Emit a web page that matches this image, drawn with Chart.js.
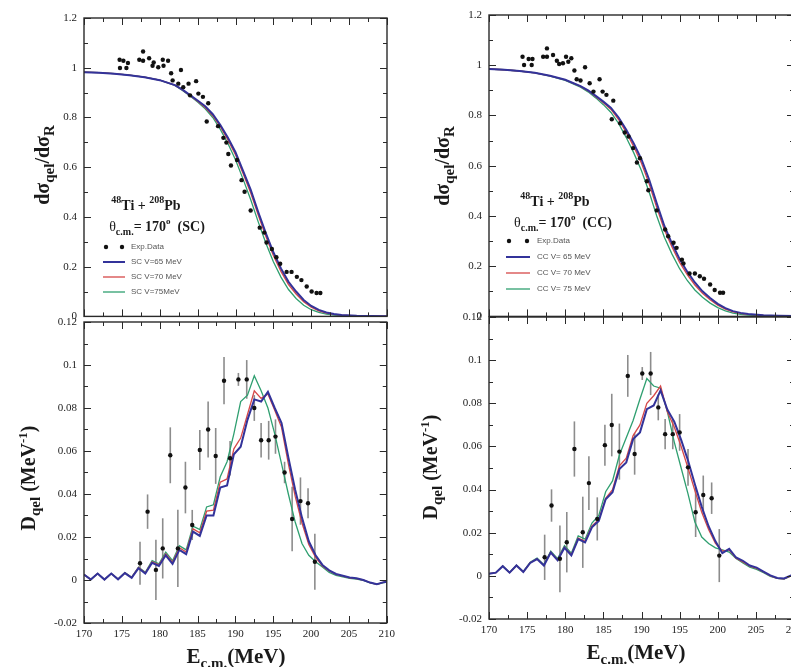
<!DOCTYPE html>
<html>
<head>
<meta charset="utf-8">
<script src="https://cdn.jsdelivr.net/npm/chart.js@4.4.1/dist/chart.umd.min.js"></script>
<style>
    body { margin: 0; background: #fff; overflow: hidden; width: 791px; height: 667px; position: relative; }
    canvas { position: absolute; }
</style>
</head>
<body>
<canvas id="razaoSC" width="400" height="330" style="left:0px;top:0px"></canvas>
<canvas id="razaoCC" width="420" height="330" style="left:400px;top:0px"></canvas>
<canvas id="barreiraSC" width="400" height="367" style="left:0px;top:300px"></canvas>
<canvas id="barreiraCC" width="420" height="372" style="left:400px;top:295px"></canvas>
<script>
// ---- razao dsigma_qel / dsigma_R : dados experimentais ----
var energiaExpSC = [174.7, 174.75, 175.2, 175.6, 175.8, 177.3, 177.8, 177.8, 178.6, 179.05, 179.2, 179.8, 180.4, 180.5, 181.1, 181.5, 181.7, 182.45, 182.8, 183.1, 183.8, 184.0, 184.8, 185.1, 185.7, 186.2, 186.4, 187.7, 188.4, 188.8, 189.05, 189.4, 190.2, 190.8, 191.2, 192.0, 193.2, 193.8, 194.1, 194.8, 195.4, 195.9, 196.75, 197.4, 198.1, 198.7, 199.4, 200.05, 200.7, 201.2];
var razaoExpSC = [1.032, 0.999, 1.028, 0.999, 1.019, 1.032, 1.065, 1.028, 1.038, 1.008, 1.021, 1.002, 1.032, 1.008, 1.028, 0.978, 0.949, 0.936, 0.991, 0.922, 0.936, 0.889, 0.946, 0.896, 0.883, 0.784, 0.857, 0.765, 0.718, 0.699, 0.653, 0.607, 0.629, 0.548, 0.501, 0.426, 0.357, 0.337, 0.297, 0.271, 0.238, 0.212, 0.179, 0.179, 0.159, 0.146, 0.120, 0.100, 0.094, 0.094];
var energiaExpCC = [174.4, 174.6, 175.2, 175.6, 175.7, 177.1, 177.6, 177.6, 178.4, 178.9, 179.2, 179.7, 180.1, 180.4, 180.8, 181.2, 181.5, 182.0, 182.6, 183.2, 183.7, 184.5, 184.9, 185.4, 186.1, 186.3, 187.2, 187.8, 188.3, 188.9, 189.4, 189.8, 190.7, 190.9, 192.0, 193.1, 193.5, 194.2, 194.6, 195.3, 195.5, 196.3, 197.0, 197.65, 198.2, 199.0, 199.6, 200.3, 200.7];
var razaoExpCC = [1.034, 1.001, 1.025, 1.001, 1.025, 1.034, 1.067, 1.034, 1.041, 1.018, 1.005, 1.008, 1.034, 1.014, 1.028, 0.979, 0.944, 0.939, 0.992, 0.928, 0.895, 0.944, 0.895, 0.882, 0.785, 0.859, 0.769, 0.732, 0.716, 0.670, 0.613, 0.630, 0.538, 0.502, 0.422, 0.346, 0.319, 0.293, 0.273, 0.226, 0.211, 0.171, 0.171, 0.160, 0.150, 0.127, 0.105, 0.094, 0.094];

// ---- razao : curvas teoricas ----
var energiaTeoria = [170, 172, 174, 176, 178, 180, 182, 183, 184, 185, 186, 187, 188, 189, 190, 191, 192, 193, 194, 195, 196, 197, 198, 199, 200, 201, 202, 203, 204, 206, 208, 210];
var razaoSC65 = [0.982, 0.980, 0.976, 0.970, 0.962, 0.950, 0.930, 0.912, 0.890, 0.868, 0.845, 0.813, 0.770, 0.718, 0.660, 0.585, 0.510, 0.420, 0.335, 0.258, 0.193, 0.139, 0.100, 0.066, 0.042, 0.026, 0.016, 0.010, 0.006, 0.003, 0.002, 0.001];
var razaoSC70 = [0.982, 0.980, 0.976, 0.970, 0.962, 0.950, 0.930, 0.911, 0.888, 0.865, 0.840, 0.807, 0.763, 0.710, 0.650, 0.575, 0.497, 0.408, 0.322, 0.245, 0.181, 0.128, 0.090, 0.059, 0.037, 0.022, 0.013, 0.008, 0.005, 0.002, 0.001, 0.001];
var razaoSC75 = [0.982, 0.980, 0.976, 0.970, 0.962, 0.950, 0.929, 0.909, 0.886, 0.862, 0.835, 0.800, 0.752, 0.695, 0.630, 0.552, 0.470, 0.380, 0.295, 0.220, 0.158, 0.108, 0.072, 0.045, 0.027, 0.016, 0.009, 0.005, 0.003, 0.001, 0.000, 0.000];
var razaoCC65 = [0.985, 0.982, 0.977, 0.970, 0.958, 0.942, 0.917, 0.900, 0.878, 0.855, 0.830, 0.792, 0.743, 0.688, 0.625, 0.545, 0.450, 0.360, 0.290, 0.228, 0.178, 0.135, 0.100, 0.073, 0.050, 0.033, 0.021, 0.014, 0.010, 0.005, 0.003, 0.002];
var razaoCC70 = [0.985, 0.982, 0.977, 0.970, 0.958, 0.942, 0.916, 0.898, 0.875, 0.851, 0.824, 0.784, 0.733, 0.675, 0.610, 0.528, 0.433, 0.345, 0.276, 0.215, 0.166, 0.125, 0.092, 0.066, 0.045, 0.029, 0.018, 0.012, 0.008, 0.004, 0.002, 0.001];
var razaoCC75 = [0.985, 0.982, 0.977, 0.970, 0.957, 0.940, 0.913, 0.894, 0.870, 0.843, 0.812, 0.768, 0.712, 0.650, 0.580, 0.495, 0.400, 0.315, 0.248, 0.190, 0.143, 0.105, 0.076, 0.053, 0.035, 0.022, 0.013, 0.008, 0.005, 0.002, 0.001, 0.000];

// ---- distribuicao de barreira D_qel : dados experimentais ----
var energiaDExpSC = [177.4, 178.4, 179.5, 180.4, 181.4, 182.4, 183.4, 184.3, 185.3, 186.4, 187.4, 188.5, 189.3, 190.4, 191.5, 192.5, 193.4, 194.4, 195.3, 196.5, 197.5, 198.6, 199.6, 200.5];
var dqelExpSC = [0.0078, 0.0318, 0.0047, 0.0147, 0.0580, 0.0147, 0.0430, 0.0256, 0.0605, 0.0700, 0.0577, 0.0927, 0.0566, 0.0933, 0.0933, 0.0800, 0.0650, 0.0650, 0.0667, 0.0500, 0.0284, 0.0367, 0.0357, 0.0085];
var erroExpSC = [0.0100, 0.0080, 0.0140, 0.0140, 0.0130, 0.0180, 0.0120, 0.0070, 0.0093, 0.0130, 0.0130, 0.0110, 0.0080, 0.0030, 0.0090, 0.0060, 0.0080, 0.0090, 0.0080, 0.0050, 0.0150, 0.0110, 0.0070, 0.0130];
var energiaDExpCC = [177.3, 178.2, 179.3, 180.2, 181.2, 182.3, 183.1, 184.2, 185.2, 186.1, 187.1, 188.2, 189.1, 190.1, 191.2, 192.2, 193.1, 194.1, 195.0, 196.1, 197.1, 198.1, 199.2, 200.2];
var dqelExpCC = [0.0086, 0.0326, 0.0079, 0.0156, 0.0588, 0.0202, 0.0430, 0.0264, 0.0606, 0.0699, 0.0576, 0.0927, 0.0565, 0.0938, 0.0938, 0.0781, 0.0657, 0.0657, 0.0665, 0.0503, 0.0295, 0.0375, 0.0360, 0.0094];
var erroExpCC = [0.0105, 0.0075, 0.0155, 0.0140, 0.0128, 0.0165, 0.0125, 0.0100, 0.0095, 0.0145, 0.0130, 0.0097, 0.0096, 0.0030, 0.0100, 0.0060, 0.0070, 0.0070, 0.0085, 0.0085, 0.0115, 0.0090, 0.0073, 0.0123];

// ---- D_qel : curvas teoricas ----
var energiaD = [170.0, 170.9, 171.8, 172.7, 173.6, 174.5, 175.4, 176.3, 177.2, 178.1, 179.0, 179.9, 180.8, 181.7, 182.6, 183.5, 184.4, 185.3, 186.2, 187.1, 188.0, 188.9, 189.8, 190.7, 191.6, 192.5, 193.4, 194.3, 195.2, 196.1, 197.0, 197.9, 198.8, 199.7, 200.6, 201.5, 202.4, 203.3, 204.2, 205.1, 206.0, 206.9, 207.8, 208.7, 209.6, 210.0];
var dqelSC65 = [0.0025, 0.0002, 0.0030, 0.0002, 0.0030, 0.0003, 0.0032, 0.0010, 0.0055, 0.0030, 0.0080, 0.0065, 0.0115, 0.0075, 0.0140, 0.0120, 0.0225, 0.0205, 0.0300, 0.0300, 0.0430, 0.0440, 0.0585, 0.0620, 0.0745, 0.0840, 0.0830, 0.0875, 0.0800, 0.0730, 0.0570, 0.0420, 0.0290, 0.0180, 0.0115, 0.0070, 0.0045, 0.0028, 0.0020, 0.0012, 0.0008, 0.0000, -0.0012, -0.0020, -0.0010, -0.0008];
var dqelSC70 = [0.0025, 0.0002, 0.0030, 0.0002, 0.0030, 0.0004, 0.0033, 0.0012, 0.0058, 0.0033, 0.0085, 0.0070, 0.0122, 0.0082, 0.0150, 0.0130, 0.0238, 0.0220, 0.0320, 0.0325, 0.0455, 0.0470, 0.0610, 0.0660, 0.0770, 0.0880, 0.0845, 0.0865, 0.0790, 0.0710, 0.0540, 0.0390, 0.0265, 0.0165, 0.0105, 0.0065, 0.0042, 0.0026, 0.0018, 0.0010, 0.0006, 0.0000, -0.0012, -0.0020, -0.0010, -0.0008];
var dqelSC75 = [0.0025, 0.0002, 0.0030, 0.0002, 0.0030, 0.0004, 0.0034, 0.0013, 0.0060, 0.0036, 0.0090, 0.0075, 0.0130, 0.0090, 0.0160, 0.0140, 0.0250, 0.0235, 0.0340, 0.0350, 0.0480, 0.0550, 0.0680, 0.0830, 0.0860, 0.0950, 0.0880, 0.0800, 0.0680, 0.0540, 0.0400, 0.0270, 0.0170, 0.0115, 0.0085, 0.0060, 0.0035, 0.0022, 0.0015, 0.0008, 0.0004, -0.0002, -0.0013, -0.0020, -0.0012, -0.0010];
var dqelCC65 = [0.0010, 0.0015, 0.0045, 0.0015, 0.0048, 0.0018, 0.0060, 0.0078, 0.0048, 0.0108, 0.0072, 0.0130, 0.0095, 0.0170, 0.0155, 0.0225, 0.0255, 0.0355, 0.0388, 0.0495, 0.0526, 0.0634, 0.0665, 0.0773, 0.0790, 0.0860, 0.0770, 0.0715, 0.0630, 0.0535, 0.0425, 0.0320, 0.0230, 0.0160, 0.0105, 0.0125, 0.0085, 0.0070, 0.0048, 0.0038, 0.0020, 0.0002, -0.0010, -0.0012, 0.0002, 0.0002];
var dqelCC70 = [0.0010, 0.0015, 0.0045, 0.0015, 0.0048, 0.0018, 0.0061, 0.0079, 0.0049, 0.0110, 0.0074, 0.0133, 0.0098, 0.0175, 0.0160, 0.0232, 0.0260, 0.0360, 0.0400, 0.0510, 0.0545, 0.0650, 0.0700, 0.0800, 0.0835, 0.0880, 0.0760, 0.0690, 0.0600, 0.0500, 0.0395, 0.0295, 0.0215, 0.0150, 0.0115, 0.0120, 0.0082, 0.0065, 0.0045, 0.0035, 0.0018, 0.0000, -0.0012, -0.0014, 0.0000, 0.0000];
var dqelCC75 = [0.0010, 0.0015, 0.0046, 0.0016, 0.0050, 0.0020, 0.0063, 0.0082, 0.0052, 0.0115, 0.0080, 0.0140, 0.0105, 0.0185, 0.0170, 0.0245, 0.0280, 0.0390, 0.0440, 0.0560, 0.0640, 0.0720, 0.0820, 0.0915, 0.0880, 0.0870, 0.0760, 0.0620, 0.0500, 0.0380, 0.0250, 0.0180, 0.0150, 0.0130, 0.0120, 0.0110, 0.0080, 0.0060, 0.0040, 0.0030, 0.0015, -0.0002, -0.0012, -0.0015, 0.0000, 0.0000];

// ---- textos ----
var rotuloExp = "Exp.Data";
var rotulosSC = ["SC V=65 MeV", "SC V=70 MeV", "SC V=75MeV"];
var rotulosCC = ["CC V= 65 MeV", "CC V= 70 MeV", "CC V= 75 MeV"];

var corAzul = "#33339a";
var corVermelha = "#d64848";
var corVerde = "#2f9f70";

var serifa = '"Liberation Serif", "DejaVu Serif", serif';
var fonteGrande = "bold 20px " + serifa;
var fonteIndice = "bold 15px " + serifa;

function pontos(xs, ys) {
    var lista = [];
    for (var i = 0; i < xs.length; i++) {
        lista.push({ x: xs[i], y: ys[i] });
    }
    return lista;
}

function textoRico(ctx, partes, x, y, alinhamento) {
    var largura = 0;
    partes.forEach(function (p) {
        ctx.font = p.f;
        largura += ctx.measureText(p.t).width;
    });
    var inicio = alinhamento == "center" ? x - largura / 2 : x;
    partes.forEach(function (p) {
        ctx.font = p.f;
        ctx.fillText(p.t, inicio, y + (p.dy || 0));
        inicio += ctx.measureText(p.t).width;
    });
}

// moldura, tracos internos, barras de erro, titulos e legenda
var pluginMoldura = {
    id: "moldura",
    beforeDatasetsDraw: function (chart) {
        var ds = chart.data.datasets[0];
        if (!ds.erros) return;
        var ctx = chart.ctx;
        var sx = chart.scales.x, sy = chart.scales.y;
        ctx.save();
        ctx.strokeStyle = "#8c8c8c";
        ctx.lineWidth = 1.6;
        ds.data.forEach(function (p, i) {
            var px = sx.getPixelForValue(p.x);
            ctx.beginPath();
            ctx.moveTo(px, sy.getPixelForValue(p.y - ds.erros[i]));
            ctx.lineTo(px, sy.getPixelForValue(p.y + ds.erros[i]));
            ctx.stroke();
        });
        ctx.restore();
    },
    afterDraw: function (chart) {
        var cfg = chart.options.plugins.moldura;
        var ctx = chart.ctx;
        var a = chart.chartArea;
        var sx = chart.scales.x, sy = chart.scales.y;
        var v, p, maior, t;
        ctx.save();
        ctx.strokeStyle = "#2a2a2a";
        ctx.lineWidth = 1;
        for (v = sx.min; v <= sx.max + 1e-9; v += 2.5) {
            p = Math.round(sx.getPixelForValue(v)) + 0.5;
            maior = Math.abs(v / 5 - Math.round(v / 5)) < 1e-6;
            t = maior ? 7 : 4;
            ctx.beginPath();
            ctx.moveTo(p, a.bottom); ctx.lineTo(p, a.bottom - t);
            ctx.moveTo(p, a.top); ctx.lineTo(p, a.top + t);
            ctx.stroke();
        }
        for (v = sy.min; v <= sy.max + 1e-9; v += cfg.yMenor) {
            p = Math.round(sy.getPixelForValue(v)) + 0.5;
            maior = Math.abs(v / cfg.yMaior - Math.round(v / cfg.yMaior)) < 1e-6;
            t = maior ? 7 : 4;
            ctx.beginPath();
            ctx.moveTo(a.left, p); ctx.lineTo(a.left + t, p);
            ctx.moveTo(a.right, p); ctx.lineTo(a.right - t, p);
            ctx.stroke();
        }
        ctx.lineWidth = 1.4;
        ctx.strokeRect(a.left, a.top, a.right - a.left, a.bottom - a.top);

        ctx.fillStyle = "#1a1a1a";
        ctx.textBaseline = "alphabetic";
        // titulo do eixo y (girado)
        ctx.save();
        ctx.translate(cfg.tituloY[0] - cfg.ox, cfg.tituloY[1] - cfg.oy);
        ctx.rotate(-Math.PI / 2);
        textoRico(ctx, cfg.tituloY[2], 0, 7, "center");
        ctx.restore();
        // titulo do eixo x
        if (cfg.tituloX) {
            textoRico(ctx, cfg.tituloX[2], cfg.tituloX[0] - cfg.ox, cfg.tituloX[1] - cfg.oy, "center");
        }
        // anotacoes
        (cfg.anotacoes || []).forEach(function (an) {
            textoRico(ctx, an[2], an[0] - cfg.ox, an[1] - cfg.oy, "center");
        });
        // legenda
        if (cfg.legenda) {
            var lg = cfg.legenda;
            var lx1 = lg.x1 - cfg.ox, lx2 = lg.x2 - cfg.ox, tx = lg.xt - cfg.ox;
            var ly = lg.y - cfg.oy;
            ctx.font = "8px " + '"Liberation Sans", sans-serif';
            ctx.textBaseline = "middle";
            chart.data.datasets.forEach(function (ds, i) {
                var yy = ly + i * lg.dy;
                if (i == 0) {
                    ctx.fillStyle = "#111";
                    [lx1 + 3, lx2 - 3].forEach(function (cx) {
                        ctx.beginPath();
                        ctx.arc(cx, yy, 2.2, 0, Math.PI * 2);
                        ctx.fill();
                    });
                } else {
                    ctx.strokeStyle = ds.borderColor;
                    ctx.lineWidth = ds.borderWidth;
                    ctx.beginPath();
                    ctx.moveTo(lx1, yy); ctx.lineTo(lx2, yy);
                    ctx.stroke();
                }
                ctx.fillStyle = "#555";
                ctx.fillText(ds.label, tx, yy);
            });
        }
        ctx.restore();
    }
};

function criarGrafico(idCanvas, dados, cfg) {
    var ctx = document.getElementById(idCanvas).getContext("2d");
    var datasets = [{
        label: rotuloExp,
        data: dados.exp,
        erros: dados.erros,
        showLine: false,
        pointRadius: 2.2,
        pointBackgroundColor: "#111",
        pointBorderWidth: 0
    }];
    var cores = [corAzul, corVermelha, corVerde];
    var larguras = [2, 1.3, 1.3];
    dados.curvas.forEach(function (c, i) {
        datasets.push({
            label: dados.rotulos[i],
            data: c,
            showLine: true,
            pointRadius: 0,
            borderColor: cores[i],
            borderWidth: larguras[i],
            tension: 0
        });
    });

    var fonteTick = { family: serifa, size: 11 };
    new Chart(ctx, {
        type: "scatter",
        data: { datasets: datasets },
        options: {
            responsive: false,
            animation: false,
            layout: { padding: cfg.padding },
            plugins: {
                legend: { display: false },
                tooltip: { enabled: false },
                moldura: cfg.moldura
            },
            scales: {
                x: {
                    type: "linear",
                    min: 170,
                    max: 210,
                    display: cfg.mostrarX,
                    grid: { display: false, drawTicks: false },
                    border: { display: false },
                    ticks: { stepSize: 5, padding: 5, color: "#222", font: fonteTick, maxRotation: 0 },
                    afterFit: function (s) { s.height = cfg.alturaX; }
                },
                y: {
                    min: cfg.yMin,
                    max: cfg.yMax,
                    grid: { display: false, drawTicks: false },
                    border: { display: false },
                    ticks: {
                        stepSize: cfg.moldura.yMaior,
                        padding: 7,
                        color: "#222",
                        font: fonteTick,
                        callback: function (v) { return String(Math.round(v * 1000) / 1000); }
                    },
                    afterFit: function (s) { s.width = cfg.larguraY; }
                }
            }
        },
        plugins: [pluginMoldura]
    });
}

var tituloRazao = [
    { t: "dσ", f: fonteGrande }, { t: "qel", f: fonteIndice, dy: 5 },
    { t: "/dσ", f: fonteGrande }, { t: "R", f: fonteIndice, dy: 5 }
];
var tituloD = [
    { t: "D", f: fonteGrande }, { t: "qel", f: fonteIndice, dy: 5 },
    { t: " (MeV", f: fonteGrande }, { t: "-1", f: "bold 13px " + serifa, dy: -8 }, { t: ")", f: fonteGrande }
];
var tituloE = [
    { t: "E", f: "bold 21px " + serifa }, { t: "c.m.", f: fonteIndice, dy: 5 }, { t: "(MeV)", f: "bold 21px " + serifa }
];
function sistema() {
    return [
        { t: "48", f: "bold 10px " + serifa, dy: -7 }, { t: "Ti", f: "bold 14px " + serifa },
        { t: " + ", f: "bold 14px " + serifa },
        { t: "208", f: "bold 10px " + serifa, dy: -7 }, { t: "Pb", f: "bold 14px " + serifa }
    ];
}
function angulo(tipo) {
    return [
        { t: "θ", f: "14px " + serifa }, { t: "c.m.", f: "bold 10px " + serifa, dy: 4 },
        { t: "= 170", f: "bold 14px " + serifa }, { t: "o", f: "bold 9px " + serifa, dy: -7 },
        { t: "  (" + tipo + ")", f: "bold 14px " + serifa }
    ];
}

criarGrafico("razaoSC", {
    exp: pontos(energiaExpSC, razaoExpSC),
    curvas: [pontos(energiaTeoria, razaoSC65), pontos(energiaTeoria, razaoSC70), pontos(energiaTeoria, razaoSC75)],
    rotulos: rotulosSC
}, {
    padding: { left: 0, right: 13, top: 18, bottom: 8 },
    mostrarX: false, alturaX: 0, larguraY: 84, yMin: 0, yMax: 1.2,
    moldura: {
        ox: 0, oy: 0, yMaior: 0.2, yMenor: 0.1,
        tituloY: [42, 165, tituloRazao],
        anotacoes: [[146, 210, sistema()], [157, 231, angulo("SC")]],
        legenda: { x1: 103, x2: 125, xt: 131, y: 247, dy: 15 }
    }
});

criarGrafico("razaoCC", {
    exp: pontos(energiaExpCC, razaoExpCC),
    curvas: [pontos(energiaTeoria, razaoCC65), pontos(energiaTeoria, razaoCC70), pontos(energiaTeoria, razaoCC75)],
    rotulos: rotulosCC
}, {
    padding: { left: 0, right: 26, top: 15, bottom: 13 },
    mostrarX: false, alturaX: 0, larguraY: 89, yMin: 0, yMax: 1.2,
    moldura: {
        ox: 400, oy: 0, yMaior: 0.2, yMenor: 0.1,
        tituloY: [442, 166, tituloRazao],
        anotacoes: [[555, 206, sistema()], [563, 227, angulo("CC")]],
        legenda: { x1: 506, x2: 530, xt: 537, y: 241, dy: 16 }
    }
});

criarGrafico("barreiraSC", {
    exp: pontos(energiaDExpSC, dqelExpSC),
    erros: erroExpSC,
    curvas: [pontos(energiaD, dqelSC65), pontos(energiaD, dqelSC70), pontos(energiaD, dqelSC75)],
    rotulos: rotulosSC
}, {
    padding: { left: 0, right: 13, top: 22, bottom: 0 },
    mostrarX: true, alturaX: 44, larguraY: 84, yMin: -0.02, yMax: 0.12,
    moldura: {
        ox: 0, oy: 300, yMaior: 0.02, yMenor: 0.01,
        tituloY: [28, 478, tituloD],
        tituloX: [236, 663, tituloE]
    }
});

criarGrafico("barreiraCC", {
    exp: pontos(energiaDExpCC, dqelExpCC),
    erros: erroExpCC,
    curvas: [pontos(energiaD, dqelCC65), pontos(energiaD, dqelCC70), pontos(energiaD, dqelCC75)],
    rotulos: rotulosCC
}, {
    padding: { left: 0, right: 26, top: 22, bottom: 0 },
    mostrarX: true, alturaX: 48, larguraY: 89, yMin: -0.02, yMax: 0.12,
    moldura: {
        ox: 400, oy: 295, yMaior: 0.02, yMenor: 0.01,
        tituloY: [430, 467, tituloD],
        tituloX: [636, 659, tituloE]
    }
});
</script>
</body>
</html>
